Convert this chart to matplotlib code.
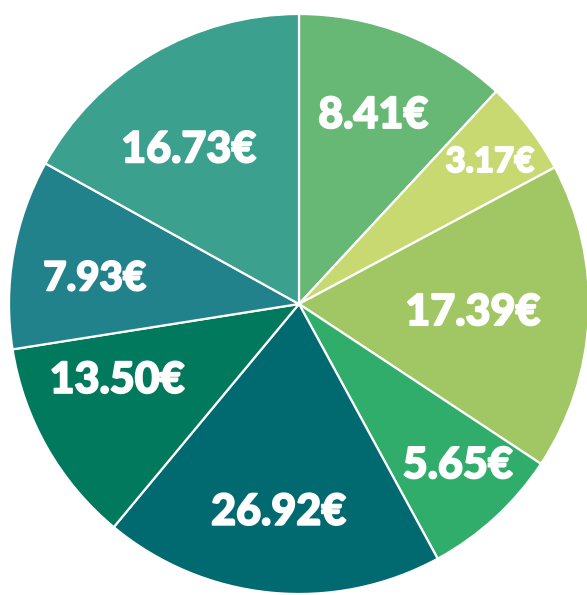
import numpy as np
import matplotlib.pyplot as plt
import matplotlib.patheffects as pe

# wedge sizes as drawn (degrees)
shares = [42.85, 19.05, 61.55, 27.98, 68.27, 41.3, 38.0, 61.0]
labels = ['8.41€', '3.17€', '17.39€', '5.65€', '26.92€', '13.50€', '7.93€', '16.73€']
colors = ['#66b874', '#c9d972', '#a1c764', '#30ad6b',
          '#006a70', '#00795c', '#21828c', '#3ca08f']
label_r = [0.70, 0.82, 0.60, 0.78, 0.72, 0.68, 0.71, 0.655]
label_shift = [0, 1, 0, -2, 0, 7, -3, -5]
label_size = [31, 25, 31, 31, 31, 31, 29, 31]

fig = plt.figure(figsize=(5.87, 5.95), dpi=100)
ax = fig.add_axes([0, 0, 1, 1])
ax.axis('off')

wedges, _ = ax.pie(shares, colors=colors, startangle=90, counterclock=False,
                   radius=1.0, wedgeprops=dict(edgecolor='white', linewidth=1.6))

for w, lab, r, sh, fs in zip(wedges, labels, label_r, label_shift, label_size):
    mid = np.deg2rad((w.theta1 + w.theta2) / 2 - sh)
    ax.text(r * np.cos(mid), r * np.sin(mid), lab, ha='center', va='center',
            color='white', fontsize=fs, fontweight='black', family='Lato',
            path_effects=[pe.withStroke(linewidth=1.3, foreground='white')])

cx, cy, rad = 299, 304, 290
ax.set_xlim(-cx / rad, (587 - cx) / rad)
ax.set_ylim(-(595 - cy) / rad, cy / rad)
ax.set_aspect('auto')

fig.savefig('out.png', dpi=100)
